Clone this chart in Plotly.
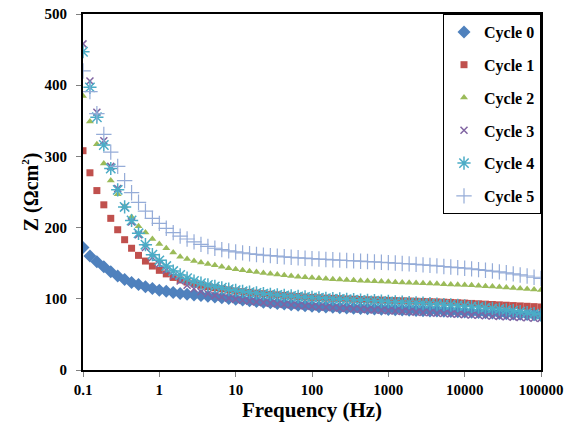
import plotly.graph_objects as go

# Frequency sweep (Hz), 11 points per decade, 0.1 Hz to 100 kHz
frequency = [
    0.1, 0.1233, 0.1520, 0.1874, 0.2310, 0.2848, 0.3511, 0.4329, 0.5337, 0.6579, 0.8111,
    1.0, 1.233, 1.520, 1.874, 2.310, 2.848, 3.511, 4.329, 5.337, 6.579, 8.111,
    10.0, 12.33, 15.20, 18.74, 23.10, 28.48, 35.11, 43.29, 53.37, 65.79, 81.11,
    100.0, 123.3, 152.0, 187.4, 231.0, 284.8, 351.1, 432.9, 533.7, 657.9, 811.1,
    1000.0, 1233, 1520, 1874, 2310, 2848, 3511, 4329, 5337, 6579, 8111,
    10000.0, 12328, 15199, 18738, 23101, 28480, 35112, 43288, 53367, 65793, 81113,
    100000.0,
]

cycle0 = [
    172, 160, 152, 145, 138, 132, 127, 123, 120, 117, 114.5,
    112, 110.5, 109, 107.5, 106.5, 105.5, 104.5, 103.5, 102.5, 101.5, 100.5,
    99.5, 98.4, 97.3, 96.3, 95.3, 94.4, 93.5, 92.6, 91.8, 91, 90.2,
    89.5, 89, 88.5, 88, 87.6, 87.2, 86.8, 86.4, 86, 85.6, 85.2,
    84.8, 84.5, 84.2, 83.9, 83.6, 83.3, 83, 82.7, 82.4, 82.1, 81.8,
    81.5, 81.1, 80.7, 80.3, 79.9, 79.5, 79.1, 78.7, 78.3, 77.9, 77.5,
    77,
]
cycle1 = [
    308, 277, 252, 232, 213, 197, 183, 171, 161, 153, 146,
    140, 135, 130, 126.5, 123.5, 121, 119, 117, 115.5, 114, 112.5,
    111, 110, 109, 108, 107.2, 106.4, 105.6, 104.8, 104, 103.3, 102.6,
    102, 101.5, 101, 100.6, 100.2, 99.8, 99.4, 99, 98.7, 98.4, 98.1,
    97.8, 97.5, 97.2, 96.9, 96.6, 96.3, 96, 95.7, 95.3, 94.9, 94.5,
    94, 93.5, 93, 92.5, 92, 91.5, 91, 90.5, 90, 89.5, 89,
    88.5,
]
cycle2 = [
    385, 349, 317, 290, 266, 247, 230, 215, 202, 193, 184,
    177, 171, 165, 159, 156, 153, 151, 149, 147, 145, 143,
    141.5, 140, 138.7, 137.5, 136.3, 135.2, 134.1, 133, 132, 131, 130.2,
    129.4, 128.8, 128.2, 127.6, 127, 126.5, 126, 125.5, 125, 124.6, 124.2,
    123.8, 123.4, 123, 122.6, 122.2, 121.8, 121.4, 121, 120.6, 120.2, 119.8,
    119.4, 118.9, 118.4, 117.8, 117.2, 116.6, 116, 115.3, 114.6, 113.9, 113.2,
    112.5,
]
cycle3 = [
    458, 406, 362, 322, 286, 255, 229, 208, 190, 172, 158,
    149, 140, 132, 125, 119, 114, 110, 107, 104.5, 102.5, 100.7,
    99.2, 97.9, 96.7, 95.6, 94.6, 93.7, 92.8, 92, 91.2, 90.5, 89.8,
    89.2, 88.6, 88, 87.4, 86.8, 86.3, 85.8, 85.3, 84.8, 84.3, 83.8,
    83.3, 82.8, 82.3, 81.8, 81.3, 80.8, 80.3, 79.8, 79.3, 78.8, 78.3,
    77.8, 77.3, 76.8, 76.3, 75.8, 75.3, 74.8, 74.3, 73.8, 73.3, 72.8,
    72.3,
]
cycle4 = [
    447, 397, 355, 316, 283, 253, 229, 210, 192, 176, 162,
    154, 146, 139, 133.5, 129, 125, 122, 119.5, 117.5, 115.5, 113.5,
    112, 110.5, 109.3, 108.2, 107.2, 106.3, 105.5, 104.7, 104, 103.3, 102.6,
    102, 101.4, 100.8, 100.3, 99.8, 99.3, 98.8, 98.3, 97.8, 97.3, 96.8,
    96.3, 95.8, 95.3, 94.8, 94.3, 93.8, 93.2, 92.6, 92, 91.4, 90.7,
    90, 89.2, 88.4, 87.5, 86.6, 85.6, 84.5, 83.3, 82, 80.6, 79.1,
    77.5,
]
cycle5 = [
    420, 391, 360, 331, 306, 286, 266, 249, 235.5, 223, 213,
    206, 199, 193, 188, 184, 180, 176.5, 173.5, 171, 169, 167.3,
    165.8, 164.5, 163.3, 162.3, 161.4, 160.6, 159.8, 159, 158.3, 157.6, 157,
    156.4, 155.8, 155.3, 154.8, 154.3, 153.8, 153.3, 152.8, 152.3, 151.8, 151.3,
    150.8, 150.2, 149.6, 149, 148.4, 147.7, 147, 146.2, 145.4, 144.6, 143.8,
    143, 142, 141, 140, 139, 137.8, 136.5, 135, 133.5, 132, 130.3,
    128.5,
]

series_names = ["Cycle 0", "Cycle 1", "Cycle 2", "Cycle 3", "Cycle 4", "Cycle 5"]
series_values = [cycle0, cycle1, cycle2, cycle3, cycle4, cycle5]
colors = ["#4F81BD", "#C0504D", "#9BBB59", "#8064A2", "#4BACC6", "#95ACD8"]
symbols = ["diamond", "square", "triangle-up", "x-thin-open", "asterisk-open", "cross-thin-open"]
sizes = [10, 7, 7, 7, 11, 11]
line_widths = [0, 0, 0, 1.5, 1.5, 1.2]

x_tick_vals = [0.1, 1, 10, 100, 1000, 10000, 100000]
x_tick_text = ["0.1", "1", "10", "100", "1000", "10000", "100000"]
y_tick_vals = [0, 100, 200, 300, 400, 500]

FONT = "'Liberation Serif', 'Times New Roman', serif"

fig = go.Figure()
for i, (name, vals) in enumerate(zip(series_names, series_values)):
    fig.add_trace(go.Scatter(
        x=frequency, y=vals, name="<b>" + name + "</b>", mode="markers",
        legendgroup=name,
        marker=dict(symbol=symbols[i], size=sizes[i], color=colors[i],
                    line=dict(color=colors[i], width=line_widths[i])),
    ))

fig.update_layout(
    width=567, height=426,
    margin=dict(l=83, r=26, t=14, b=56, autoexpand=False),
    paper_bgcolor="white", plot_bgcolor="white",
    font=dict(family=FONT, color="black"),
    showlegend=True,
    legend=dict(
        x=1, y=1, xanchor="right", yanchor="top",
        bordercolor="black", borderwidth=1, bgcolor="white",
        font=dict(family=FONT, size=16, color="black"),
        traceorder="grouped", tracegroupgap=9,
        itemwidth=30,
    ),
    xaxis=dict(
        type="log", range=[-1, 5], automargin=False,
        tickvals=x_tick_vals, ticktext=["<b>" + t + "</b>" for t in x_tick_text],
        ticks="outside", ticklen=5, tickcolor="#808080",
        ticklabeloverflow="allow",
        showgrid=False, zeroline=False,
        showline=True, linecolor="black", linewidth=2, mirror=True,
        tickfont=dict(family=FONT, size=15, color="black"),
        title=dict(text="<b>Frequency (Hz)</b>", standoff=2,
                   font=dict(family=FONT, size=21, color="black")),
    ),
    yaxis=dict(
        range=[0, 500], automargin=False,
        tickvals=y_tick_vals,
        ticktext=["<b>%d</b>" % v for v in y_tick_vals],
        ticks="outside", ticklen=5, tickcolor="#808080",
        ticklabelstandoff=6, ticklabeloverflow="allow",
        showgrid=False, zeroline=False,
        showline=True, linecolor="black", linewidth=2, mirror=True,
        tickfont=dict(family=FONT, size=15, color="black"),
        title=dict(text="<b>Z (Ωcm<sup><span style='font-size:11px'>2</span></sup>)</b>", standoff=1,
                   font=dict(family=FONT, size=20, color="black")),
    ),
)

# Remove the default 8 px page margin so the figure fills the window exactly.
fig.write_html("out.html", config={"displayModeBar": False},
               post_script="document.body.style.margin='0';")
